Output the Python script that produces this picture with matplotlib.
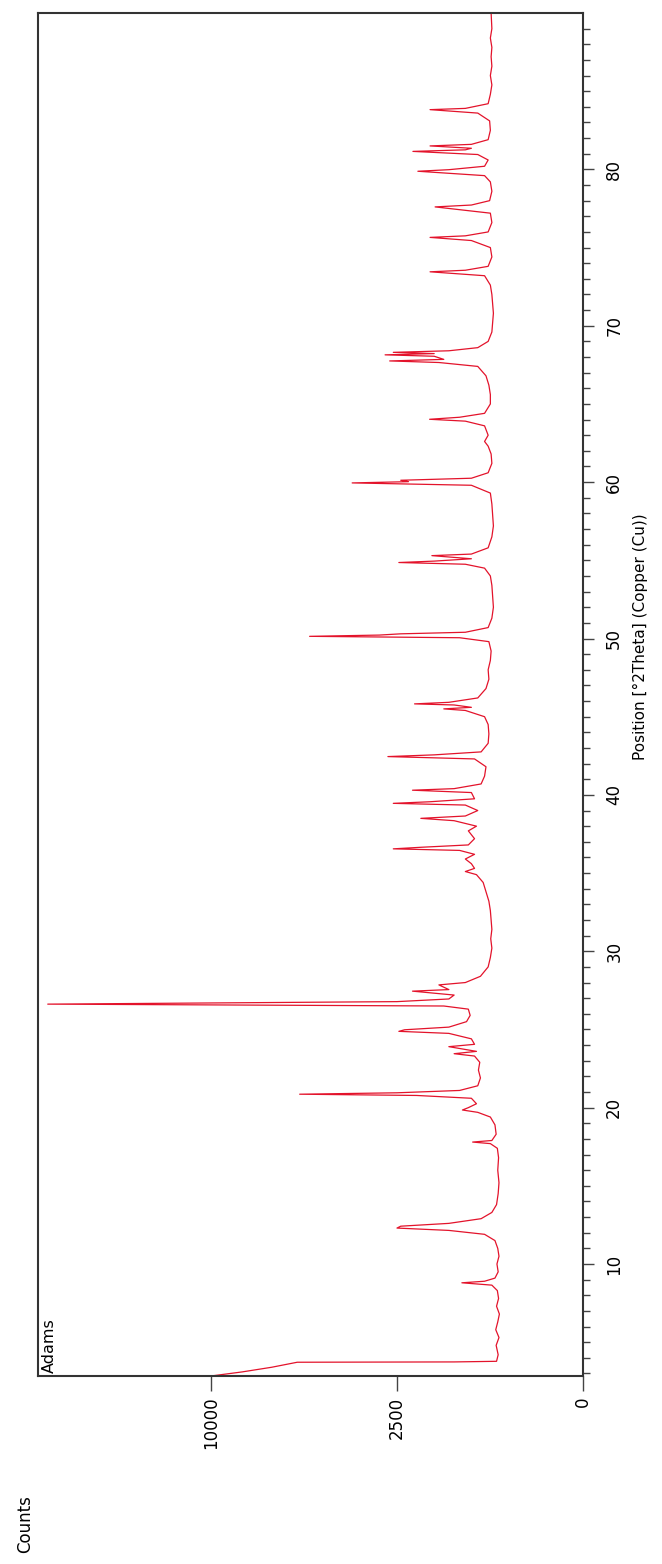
import matplotlib.pyplot as plt
import numpy as np

plt.rcParams['font.family'] = ['DejaVu Sans']

# diffractogram: position (deg 2theta) and counts
two_theta = [2.84, 3.1, 3.4, 3.72, 3.74, 3.78, 4.2, 4.8, 5.3, 5.8, 6.3, 6.8, 7.3, 7.8, 8.3,
             8.65, 8.8, 8.9, 9.1, 9.5, 10.0, 10.5, 11.0, 11.5, 11.9, 12.15, 12.3, 12.42, 12.6,
             12.9, 13.3, 13.8, 14.5, 15.2, 16.0, 16.8, 17.4, 17.7, 17.8, 17.9, 18.3, 18.9,
             19.4, 19.7, 19.85, 20.0, 20.25, 20.6, 20.78, 20.86, 20.95, 21.1, 21.4, 21.9,
             22.4, 22.9, 23.3, 23.45, 23.6, 23.9, 24.05, 24.4, 24.75, 24.88, 24.98, 25.15,
             25.5, 25.9, 26.3, 26.5, 26.62, 26.7, 26.78, 26.95, 27.2, 27.45, 27.55, 27.85,
             28.0, 28.4, 29.0, 29.6, 30.2, 30.8, 31.4, 32.0, 32.6, 33.2, 33.8, 34.4, 34.9,
             35.1, 35.3, 35.6, 35.9, 36.2, 36.45, 36.55, 36.65, 36.8, 37.2, 37.7, 38.0, 38.35,
             38.5, 38.65, 39.0, 39.35, 39.46, 39.56, 39.75, 40.15, 40.3, 40.4, 40.7, 41.2,
             41.8, 42.3, 42.45, 42.56, 42.75, 43.3, 43.9, 44.5, 45.0, 45.4, 45.5, 45.6, 45.75,
             45.82, 45.92, 46.2, 46.8, 47.4, 48.0, 48.6, 49.2, 49.8, 50.05, 50.14, 50.22,
             50.3, 50.4, 50.7, 51.3, 52.0, 52.7, 53.4, 54.0, 54.5, 54.75, 54.86, 54.95, 55.1,
             55.3, 55.4, 55.8, 56.5, 57.2, 57.9, 58.6, 59.3, 59.8, 59.95, 60.03, 60.12, 60.25,
             60.6, 61.2, 61.8, 62.3, 62.6, 63.0, 63.6, 63.9, 64.02, 64.15, 64.4, 65.0, 65.6,
             66.2, 66.8, 67.4, 67.65, 67.75, 67.85, 68.05, 68.14, 68.22, 68.3, 68.4, 68.6,
             69.0, 69.6, 70.2, 70.8, 71.4, 72.0, 72.6, 73.2, 73.45, 73.55, 73.8, 74.4, 75.0,
             75.45, 75.65, 75.75, 76.0, 76.6, 77.2, 77.6, 77.72, 78.0, 78.6, 79.2, 79.6, 79.88,
             79.98, 80.2, 80.6, 80.95, 81.15, 81.25, 81.35, 81.5, 81.6, 81.9, 82.5, 83.1, 83.6,
             83.82, 83.9, 84.2, 84.8, 85.4, 86.0, 86.6, 87.2, 87.8, 88.4, 89.0, 90.0]
counts = [10000, 8400, 7000, 5900, 1200, 540, 520, 545, 510, 550, 525, 505, 540, 515, 530,
          600, 1060, 700, 560, 520, 535, 510, 525, 560, 700, 1300, 2500, 2400, 1300,
          750, 600, 540, 520, 510, 525, 515, 530, 620, 880, 600, 545, 560,
          620, 800, 1050, 950, 820, 900, 2000, 5800, 2500, 1100, 800, 760,
          790, 770, 850, 1200, 820, 1300, 850, 900, 1300, 2450, 2300, 1300,
          980, 920, 950, 1400, 20700, 9000, 2500, 1300, 1200, 2100, 1300, 1500,
          1000, 760, 650, 620, 600, 615, 600, 610, 620, 640, 680, 720, 820,
          1000, 850, 900, 1000, 850, 1100, 2600, 1900, 950, 850, 950, 820, 1200,
          1900, 1000, 800, 1000, 2600, 1700, 850, 900, 2100, 1200, 750, 700,
          680, 850, 2750, 1600, 750, 650, 640, 650, 700, 1000, 1400, 900, 1200,
          2050, 1300, 800, 680, 640, 650, 620, 610, 640, 1100, 5400, 3000,
          2400, 1000, 650, 600, 580, 590, 600, 620, 700, 1000, 2450, 1600, 900,
          1650, 900, 650, 600, 580, 590, 600, 620, 900, 3850, 2200, 2400, 900,
          650, 600, 610, 650, 700, 650, 700, 1000, 1700, 1100, 700, 620, 620,
          640, 680, 800, 1500, 2700, 1400, 1600, 2830, 1600, 2600, 1300, 800,
          650, 600, 590, 580, 590, 600, 620, 700, 1690, 1000, 650, 600, 620,
          900, 1690, 1000, 650, 600, 620, 1580, 900, 630, 600, 620, 700, 1970,
          1300, 700, 650, 800, 2090, 1000, 900, 1690, 900, 650, 620, 630, 800,
          1690, 1000, 650, 620, 600, 620, 600, 610, 600, 620, 600, 610]

count_ticks = [0, 2500, 10000]
count_tick_labels = ['0', '2500', '10000']
position_ticks = [10, 20, 30, 40, 50, 60, 70, 80]

fig = plt.figure(figsize=(6.62, 15.64), dpi=100)
ax = fig.add_axes([38 / 662, 188 / 1564, 545 / 662, 1363 / 1564])

# page is turned: counts run along x (square-root scale), 2theta along y
ax.plot(counts, two_theta, color='#e3132b', lw=0.9)
ax.set_xscale('function', functions=(lambda v: np.sqrt(np.clip(v, 0, None)), lambda v: v ** 2))
ax.set_xlim(21460, 0)
ax.set_ylim(2.84, 90)

ax.set_xticks(count_ticks)
ax.set_xticklabels(count_tick_labels, rotation=90, fontsize=12)
ax.xaxis.set_minor_locator(plt.NullLocator())

ax.yaxis.tick_right()
ax.set_yticks(position_ticks)
ax.set_yticks(np.arange(3, 90), minor=True)
ax.set_yticklabels([str(t) for t in position_ticks], rotation=90, va='center', fontsize=12)
ax.tick_params(axis='y', which='major', length=8, width=1, pad=8, color='#444444')
ax.tick_params(axis='y', which='minor', length=5, width=1, color='#444444')
ax.tick_params(axis='x', length=11, width=1, pad=4, color='#444444')

for s in ax.spines.values():
    s.set_color('#333333')
    s.set_linewidth(1.5)

ax.text(0.008, 0.002, 'Adams', transform=ax.transAxes, rotation=90, ha='left', va='bottom', fontsize=11.5)
fig.text(640 / 662, 1 - 637 / 1564, 'Position [°2Theta] (Copper (Cu))', rotation=90,
         ha='center', va='center', fontsize=11)
fig.text(25 / 662, 1 - 1524 / 1564, 'Counts', rotation=90, ha='center', va='center', fontsize=12)

fig.savefig('out.png', dpi=100)
